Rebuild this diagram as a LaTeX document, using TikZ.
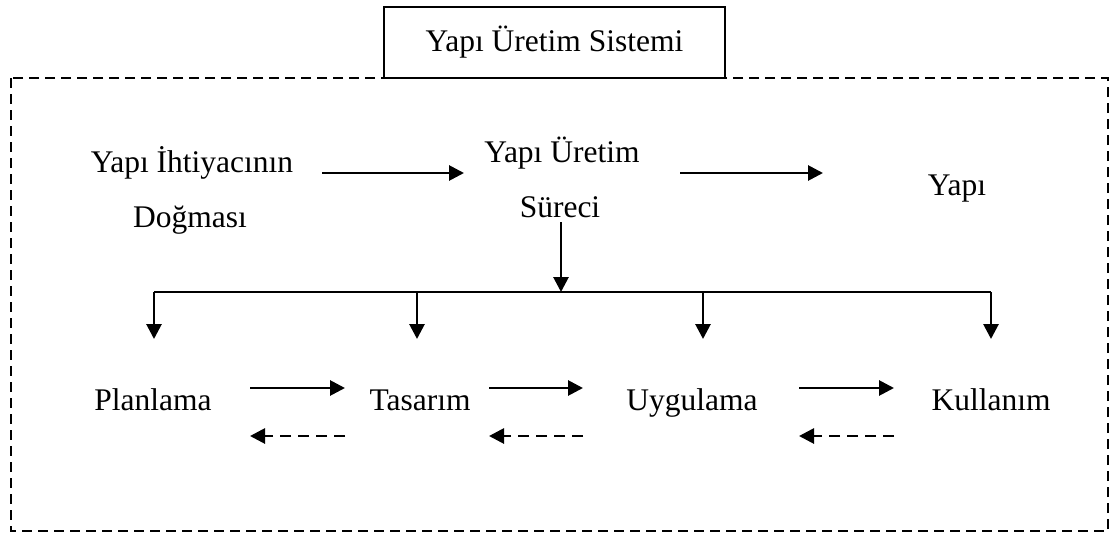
\documentclass[tikz,border=0pt]{standalone}
\usepackage{fontspec}
\setmainfont{Liberation Serif}
\usetikzlibrary{arrows.meta}
\begin{document}
\begin{tikzpicture}[x=1pt, y=-1pt,
  lbl/.style={font=\fontsize{31.5}{38}\selectfont, inner sep=0pt, anchor=base},
  flow/.style={line width=2.8pt, -{Triangle[length=15pt,width=15pt]}},
  back/.style={flow, dash pattern=on 11pt off 7pt},
  frame/.style={line width=2.6pt, dash pattern=on 10pt off 6pt},
  titlebox/.style={draw, line width=2.2pt, fill=white, minimum width=341pt,
    minimum height=71pt, inner sep=0pt, font=\fontsize{31.5}{38}\selectfont}]
\useasboundingbox (0,0) rectangle (1109,533);

% system boundary and its title
\draw[frame] (11,78) rectangle (1108,531);
\node[titlebox] (sys) at (554.5,42.5) {Yapı Üretim Sistemi};

% upper row
\node[lbl] (need)  at (192,172) {Yapı İhtiyacının};
\node[lbl] (needb) at (190,227) {Doğması};
\node[lbl] (proc)  at (562,162) {Yapı Üretim};
\node[lbl] (procb) at (560,217) {Süreci};
\node[lbl] (bldg)  at (957,195) {Yapı};

% lower row: phases
\node[lbl] (plan) at (153,410) {Planlama};
\node[lbl] (des)  at (420,410) {Tasarım};
\node[lbl] (app)  at (692,410) {Uygulama};
\node[lbl] (use)  at (991,410) {Kullanım};

% connector end points
\coordinate (n1) at (322,173);  \coordinate (p1) at (464,173);
\coordinate (p2) at (680,173);  \coordinate (b1) at (823,173);
\coordinate (pd) at (561,222);  \coordinate (bus) at (561,292);
\coordinate (busL) at (154,292); \coordinate (busR) at (991,292);
\coordinate (d1) at (154,339);  \coordinate (d2) at (417,339);
\coordinate (d3) at (703,339);  \coordinate (d4) at (991,339);
\coordinate (f1s) at (250,388); \coordinate (f1e) at (345,388);
\coordinate (f2s) at (489,388); \coordinate (f2e) at (583,388);
\coordinate (f3s) at (799,388); \coordinate (f3e) at (894,388);
\coordinate (r1s) at (345,436); \coordinate (r1e) at (250,436);
\coordinate (r2s) at (583,436); \coordinate (r2e) at (489,436);
\coordinate (r3s) at (894,436); \coordinate (r3e) at (799,436);

% main process flow
\draw[flow] (n1) -- (p1);
\draw[flow] (p2) -- (b1);
\draw[flow] (pd) -- (bus);

% distribution to the phases
\draw[line width=2.8pt, line join=miter] (d1 |- busL) -- (busL) -- (busR) -- (d4 |- busR);
\draw[flow] (busL) -- (d1);
\draw[flow] (417,292) -- (d2);
\draw[flow] (703,292) -- (d3);
\draw[flow] (busR) -- (d4);

% forward and feedback arrows between phases
\draw[flow] (f1s) -- (f1e);
\draw[flow] (f2s) -- (f2e);
\draw[flow] (f3s) -- (f3e);
\draw[back] (r1s) -- (r1e);
\draw[back] (r2s) -- (r2e);
\draw[back] (r3s) -- (r3e);
\end{tikzpicture}
\end{document}
